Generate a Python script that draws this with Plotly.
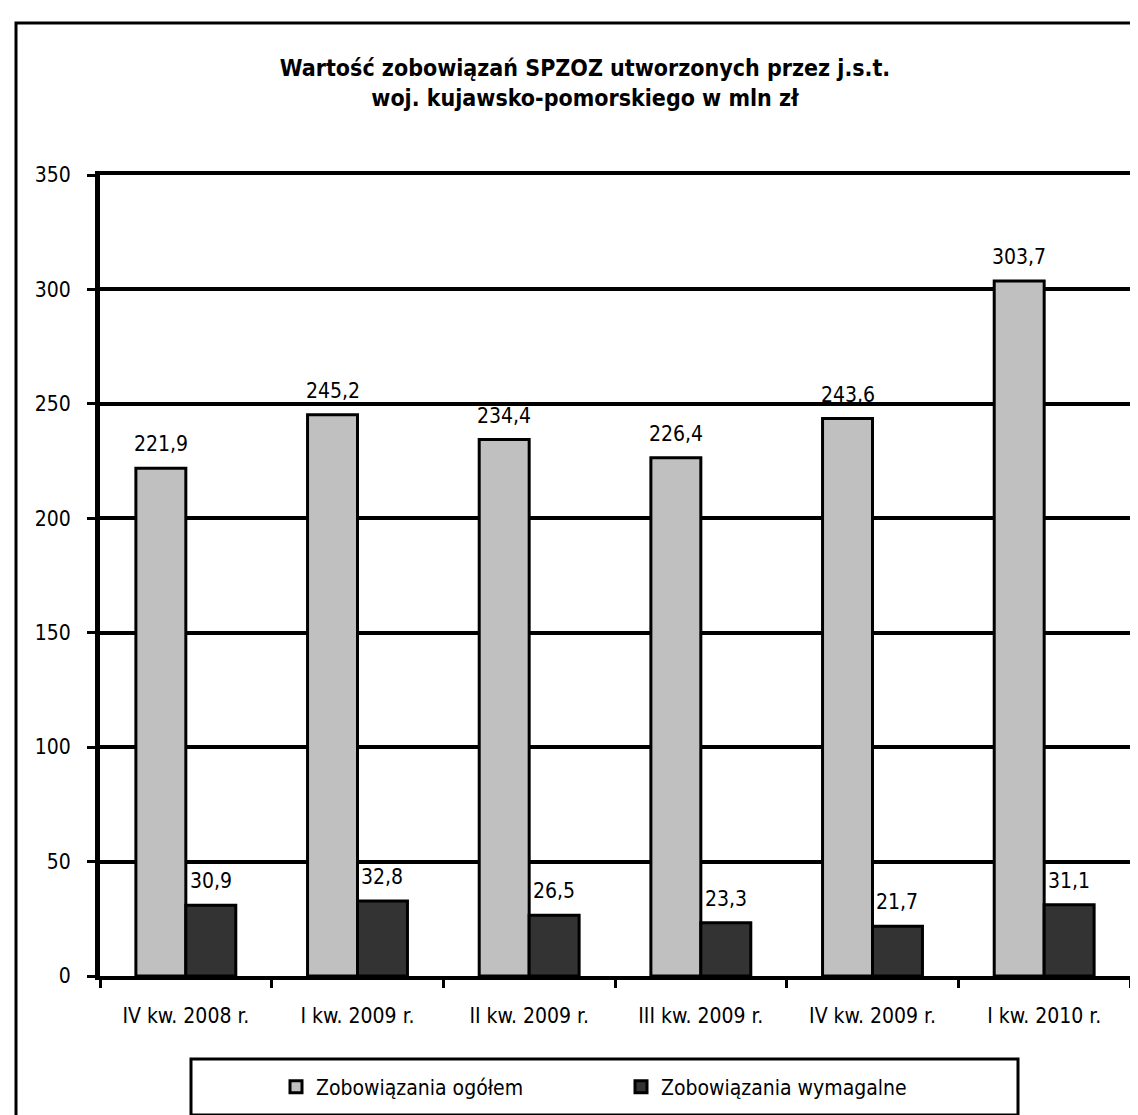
import plotly.graph_objects as go

categories = ["IV kw. 2008 r.", "I kw. 2009 r.", "II kw. 2009 r.", "III kw. 2009 r.", "IV kw. 2009 r.", "I kw. 2010 r."]
ogolem = [221.9, 245.2, 234.4, 226.4, 243.6, 303.7]
wymagalne = [30.9, 32.8, 26.5, 23.3, 21.7, 31.1]
y_ticks = [0, 50, 100, 150, 200, 250, 300, 350]

FONT = "Liberation Sans Narrow, Arial Narrow, DejaVu Sans Condensed, Liberation Sans, sans-serif"

def fmt(v):
    return f"{v:.1f}".replace(".", ",")

W, H = 1138, 1115
L, R, T, B = 92, 16, 167, 147
pw, ph = W - L - R, H - T - B
BARGAP = 0.418
half_bar = pw / len(categories) * (1 - BARGAP) / 4

def px(x):
    return (x - L) / pw

def py(y):
    return (H - B - y) / ph

fig = go.Figure()
fig.add_trace(go.Bar(
    x=categories, y=ogolem, name="Zobowiązania ogółem",
    marker=dict(color="#C0C0C0", line=dict(color="black", width=3)),
))
fig.add_trace(go.Bar(
    x=categories, y=wymagalne, name="Zobowiązania wymagalne",
    marker=dict(color="#333333", line=dict(color="black", width=3)),
))

annotations = []
for series, shift in ((ogolem, -half_bar), (wymagalne, half_bar)):
    for c, v in zip(categories, series):
        annotations.append(dict(
            x=c, y=v, xref="x", yref="y", text=fmt(v), showarrow=False,
            xanchor="center", yanchor="bottom", xshift=shift, yshift=10,
            font=dict(family=FONT, size=21, color="black"),
        ))

fig.update_layout(
    width=W, height=H,
    margin=dict(l=L, r=R, t=T, b=B),
    paper_bgcolor="white", plot_bgcolor="white",
    font=dict(family=FONT, size=21, color="black"),
    barmode="group", bargap=BARGAP, bargroupgap=0,
    title=dict(
        text="<b>Wartość zobowiązań SPZOZ utworzonych przez j.s.t.<br>woj. kujawsko-pomorskiego w mln zł</b>",
        x=577 / W, xanchor="center", y=1 - 68 / H, yanchor="middle", yref="container",
        font=dict(family=FONT, size=23, color="black"),
    ),
    xaxis=dict(
        showline=True, linecolor="black", linewidth=4, mirror=True,
        ticks="outside", tickson="boundaries", ticklen=8, tickwidth=3, tickcolor="black",
        ticklabelstandoff=18, showgrid=False,
        tickfont=dict(size=21),
    ),
    yaxis=dict(
        range=[0, 350], tickvals=y_ticks,
        showline=True, linecolor="black", linewidth=5, mirror=True,
        ticks="outside", ticklen=8, tickwidth=3, tickcolor="black",
        ticklabelstandoff=12,
        showgrid=True, gridcolor="black", gridwidth=3.5,
        zeroline=False, tickfont=dict(size=21),
    ),
    showlegend=True,
    legend=dict(
        orientation="h", x=px(613), xanchor="center", y=py(1079), yanchor="middle",
        font=dict(size=21), bgcolor="rgba(0,0,0,0)", borderwidth=0,
        entrywidth=300, entrywidthmode="pixels", traceorder="normal",
    ),
    annotations=annotations,
    shapes=[
        dict(type="rect", xref="paper", yref="paper",
             x0=px(8), x1=px(1150), y0=py(1130), y1=py(15),
             line=dict(color="black", width=3), fillcolor="rgba(0,0,0,0)", layer="below"),
        dict(type="rect", xref="paper", yref="paper",
             x0=px(183), x1=px(1010), y0=py(1107), y1=py(1051),
             line=dict(color="black", width=3), fillcolor="rgba(0,0,0,0)", layer="below"),
    ],
)

fig.write_html("out.html")
